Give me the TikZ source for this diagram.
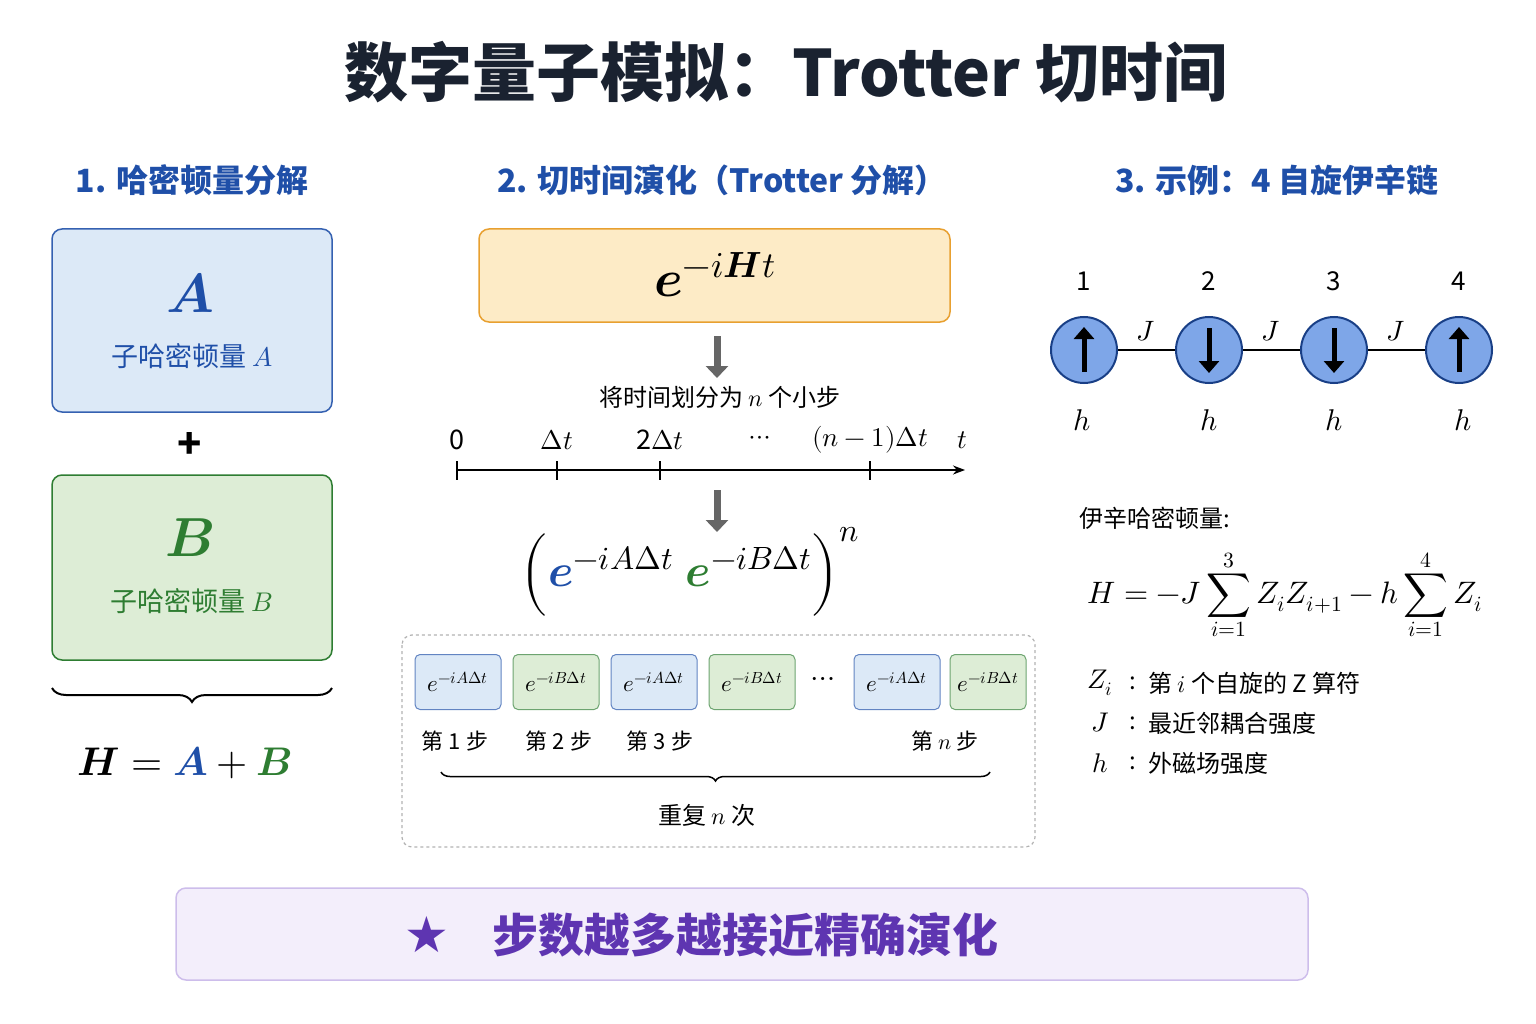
\documentclass[tikz,border=0pt]{standalone}
\usepackage{fontspec}
\usepackage{unicode-math}
\setmainfont{Noto Sans CJK SC}
\setmathfont{Latin Modern Math}
\newfontfamily\djvfont{DejaVu Sans}
\usetikzlibrary{decorations.pathreplacing,arrows.meta,shapes.geometric}
\definecolor{bT}{HTML}{1F4FA8}
\definecolor{gT}{HTML}{2E7D32}
\definecolor{bF}{HTML}{DCE9F7}
\definecolor{gF}{HTML}{DDEDD6}
\definecolor{oF}{HTML}{FDEBC6}
\definecolor{oD}{HTML}{E8A030}
\definecolor{pT}{HTML}{5E35B1}
\definecolor{pF}{HTML}{F3EEFB}
\definecolor{pD}{HTML}{CDBDEB}
\definecolor{sF}{HTML}{7EA6E8}
\definecolor{tT}{HTML}{1A2230}
\newcommand\fsz[1]{\fontsize{#1}{#1}\selectfont}
\begin{document}
\begin{tikzpicture}[x=1pt,y=-1pt,
 hdr/.style={text=bT,font=\fsz{32}\bfseries},
 box/.style={draw,rounded corners=10pt,line width=1.5pt},
 sbox/.style={draw,rounded corners=5pt,line width=1pt,minimum width=86pt,minimum height=55pt,font=\fsz{23}},
 darr/.style={line width=7pt,draw=gray!80!black,-{Triangle[length=12pt,width=22pt]}},
 spin/.style={circle,draw=bT!80!black,fill=sF,line width=2pt,minimum size=66pt},
 lab/.style={font=\fsz{24}}]
\useasboundingbox (0,0) rectangle (1536,1024);
\node[text=tT,font=\fsz{64}\bfseries] (title) at (786,72) {数字量子模拟：Trotter 切时间};
\node[hdr] (h1) at (192,180) {1. 哈密顿量分解};
\node[hdr] (h2) at (722,180) {2. 切时间演化（Trotter 分解）};
\node[hdr] (h3) at (1277,180) {3. 示例：4 自旋伊辛链};
% part 1
\draw[box,draw=bT!90,fill=bF] (52,229) rectangle (332,412);
\node[text=bT,font=\fsz{55}] (A) at (190,293) {$\symbfit{A}$};
\node[text=bT,font=\fsz{27}] (At) at (192,356) {子哈密顿量 $A$};
\node[font=\fsz{40}\bfseries] (plus) at (190,445) {+};
\draw[box,draw=gT,fill=gF] (52,475) rectangle (332,660);
\node[text=gT,font=\fsz{55}] (B) at (190,538) {$\symbfit{B}$};
\node[text=gT,font=\fsz{27}] (Bt) at (192,601) {子哈密顿量 $B$};
\draw[line width=2pt,decorate,decoration={brace,mirror,amplitude=14pt}] (52,688) -- (332,688);
\node[font=\fsz{40}] (H) at (185,763) {$\symbfit{H}=\textcolor{bT}{\symbfit{A}}+\textcolor{gT}{\symbfit{B}}$};
% part 2
\draw[box,draw=oD,fill=oF] (479,229) rectangle (950,322);
\node[font=\fsz{52}] (U) at (715,275) {$\symbfit{e}^{-i\symbfit{H}t}$};
\draw[darr] (717,336) -- (717,378);
\node[lab] (div) at (720,397) {将时间划分为 $n$ 个小步};
\draw[line width=1.5pt,-{Stealth[length=12pt]}] (457,470) -- (965,470);
\foreach \x in {457,557,660,870} \draw[line width=1.5pt] (\x,461) -- (\x,480);
\foreach \x/\t in {457/0,557/$\Delta t$,660/2$\Delta t$,760/$\cdots$,870/$(n-1)\Delta t$,962/$t$}
  \node[font=\fsz{27}] at (\x,440) {\t};
\draw[darr] (717,490) -- (717,532);
\node[font=\fsz{46}] (F) at (690,572) {$\Big(\textcolor{bT}{\symbfit{e}}^{-iA\Delta t}\;\textcolor{gT}{\symbfit{e}}^{-iB\Delta t}\Big)^{n}$};
\draw[dashed,line width=1.2pt,draw=gray!60,rounded corners=10pt] (402,635) rectangle (1035,847);
\foreach \x/\c/\s/\w [count=\i] in {458/b/A/86,556/g/B/86,654/b/A/86,752/g/B/86,897/b/A/86,988/g/B/76}
  \node[sbox,draw=\c T!70,fill=\c F,minimum width=\w pt] (s\i) at (\x,682) {$e^{-i\s\Delta t}$};
\node[font=\fsz{30}] (dots) at (823,682) {$\cdots$};
\foreach \x/\t in {455/1,559/2,660/3} \node[font=\fsz{22}] at (\x,741) {第 \t{} 步};
\node[font=\fsz{22}] at (945,741) {第 $n$ 步};
\draw[line width=1.5pt,decorate,decoration={brace,mirror,amplitude=9pt}] (441,772) -- (990,772);
\node[font=\fsz{24}] (rep) at (707,815) {重复 $n$ 次};
% part 3
\draw[line width=2pt] (1084,350) -- (1459,350);
\foreach \x/\d/\hx [count=\i] in {1084/u/1082,1209/d/1209,1334/d/1334,1459/u/1463}{
  \node[spin] (p\i) at (\x,350) {};
  \node[font=\fsz{26}] at (\x,281) {\i};
  \node[font=\fsz{30}] at (\hx,420) {$h$};
  \if\d u \draw[line width=5pt,-{Triangle[length=12pt,width=20pt]}] (\x,372) -- (\x,327);
  \else \draw[line width=5pt,-{Triangle[length=12pt,width=20pt]}] (\x,328) -- (\x,373);\fi}
\foreach \x in {1146,1271,1396} \node[fill=white,inner sep=1pt,font=\fsz{28}] at (\x,331) {$J$};
\node[lab,anchor=west] (ih) at (1076,518) {伊辛哈密顿量:};
\node[font=\fsz{31}] (HI) at (1285,595) {$\displaystyle H=-J\sum_{i=1}^{3}Z_iZ_{i+1}-h\sum_{i=1}^{4}Z_i$};
\foreach \y/\s/\t in {683/Z_i/第 $i$ 个自旋的 Z 算符,723/J/最近邻耦合强度,763/h/外磁场强度}{
  \node[font=\fsz{27}] at (1100,\y) {$\s$};
  \node[font=\fsz{24}] at (1133,\y) {:};
  \node[font=\fsz{24},anchor=west] at (1145,\y) {\t};}
% bottom
\draw[box,draw=pD,fill=pF] (176,888) rectangle (1308,980);
\node[text=pT,font=\fsz{50}\djvfont] (star) at (427,935) {★};
\node[text=pT,font=\fsz{46}\bfseries] (msg) at (745,935) {步数越多越接近精确演化};
\end{tikzpicture}
\end{document}
